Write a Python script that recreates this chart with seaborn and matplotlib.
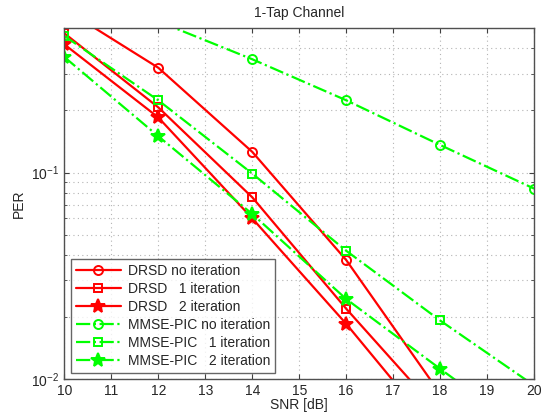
import matplotlib
matplotlib.use('Agg')
import numpy as np
import pandas as pd
import matplotlib.pyplot as plt
import matplotlib.ticker as mticker
import seaborn as sns

snr = [10, 12, 14, 16, 18, 20]

drsd_0 = [0.62, 0.322, 0.126, 0.0377, 0.0085]
drsd_1 = [0.473, 0.207, 0.0759, 0.0219, 0.0068]
drsd_2 = [0.418, 0.185, 0.060, 0.0185, 0.0052]
mmse_0 = [0.78, 0.54, 0.354, 0.224, 0.136, 0.0836]
mmse_1 = [0.459, 0.224, 0.0989, 0.0418, 0.0192, 0.0093]
mmse_2 = [0.363, 0.150, 0.063, 0.0244, 0.0112, 0.0052]

labels = ['DRSD no iteration', 'DRSD   1 iteration', 'DRSD   2 iteration',
          'MMSE-PIC no iteration', 'MMSE-PIC   1 iteration', 'MMSE-PIC   2 iteration']

sns.set_style('ticks')
plt.rcParams['font.family'] = ['Liberation Sans', 'DejaVu Sans']
plt.rcParams['mathtext.fontset'] = 'custom'
plt.rcParams['mathtext.rm'] = 'Liberation Sans'

fig = plt.figure(figsize=(5.45, 4.16), dpi=100)
ax = fig.add_axes([0.118, 0.089, 0.862, 0.843])

red = '#ff0000'
green = '#00ff00'
series = [
    (drsd_0, red, '-', 'o', 6.5),
    (drsd_1, red, '-', 's', 5.5),
    (drsd_2, red, '-', '*', 10),
    (mmse_0, green, '-.', 'o', 6.5),
    (mmse_1, green, '-.', 's', 5.5),
    (mmse_2, green, '-.', '*', 10),
]
for (vals, col, ls, mk, ms), lab in zip(series, labels):
    df = pd.DataFrame({'SNR': snr[:len(vals)], 'PER': vals})
    face = col if mk == '*' else 'none'
    sns.lineplot(data=df, x='SNR', y='PER', ax=ax, color=col, linestyle=ls,
                 linewidth=1.6, marker=mk, markersize=ms, markeredgecolor=col,
                 markerfacecolor=face, markeredgewidth=1.4, label=lab)

ax.set_yscale('log')
ax.set_xlim(10, 20)
ax.set_ylim(0.01, 0.5)
ax.set_xticks(range(10, 21))
ax.yaxis.set_minor_formatter(mticker.NullFormatter())
ax.grid(True, which='both', linestyle=(0, (1, 3)), color='#b4b4b4', linewidth=0.8)
ax.tick_params(which='both', direction='in', top=True, right=True, labelsize=10,
               color='#404040')
for sp in ax.spines.values():
    sp.set_color('#505050')
    sp.set_linewidth(1.0)

ax.set_xlabel('SNR [dB]', fontsize=10, labelpad=0)
ax.set_ylabel('PER', fontsize=10, labelpad=4)
ax.set_title('1-Tap Channel', fontsize=10, pad=8)

leg = ax.legend(loc='lower left', bbox_to_anchor=(0.015, 0.018), fontsize=10,
                frameon=True, fancybox=False, edgecolor='#404040',
                handlelength=3.2, labelspacing=0.28, borderpad=0.35,
                handletextpad=0.5, borderaxespad=0)
leg.get_frame().set_linewidth(1.0)

fig.savefig('out.png', dpi=100)
